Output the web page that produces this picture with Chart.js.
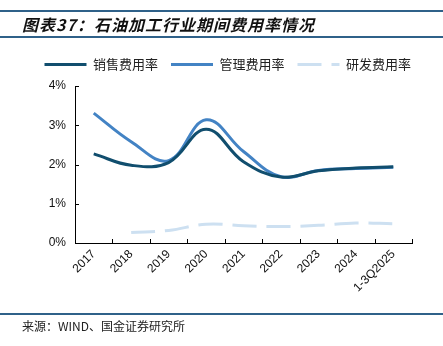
<!DOCTYPE html>
<html>
<head>
<meta charset="utf-8">
<script src="https://cdn.jsdelivr.net/npm/chart.js@4"></script>
<style>
  body { margin: 0; width: 443px; height: 346px; background: #fff; position: relative; overflow: hidden; }
  .title {
    position: absolute; left: 0; top: 10px; width: 443px; height: 24px;
    border-top: 2px solid #2f6189; border-bottom: 2px solid #2f6189;
    font-family: "Noto Sans CJK SC", sans-serif; font-style: italic; font-weight: bold;
    font-size: 16px; line-height: 24px; letter-spacing: 1px; color: #111;
    box-sizing: content-box;
  }
  .title span { position: absolute; left: 22px; top: 0; }
  .foot {
    position: absolute; left: 0; top: 313px; width: 443px; height: 0;
    border-top: 2px solid #2f6189;
  }
  .src {
    position: absolute; left: 22px; top: 317px;
    font-family: "Noto Sans CJK SC", sans-serif; font-size: 12px; color: #222;
  }
  #wrap { position: absolute; left: 0; top: 0; width: 443px; height: 346px; }
</style>
</head>
<body>
<div id="wrap"><canvas id="myChart"></canvas></div>
<div class="title"><span>图表37：石油加工行业期间费用率情况</span></div>
<div class="foot"></div>
<div class="src">来源：WIND、国金证券研究所</div>
<script>
const years = ["2017", "2018", "2019", "2020", "2021", "2022", "2023", "2024", "1-3Q2025"];
const salesRate = [2.27, 1.98, 2.05, 2.9, 2.07, 1.68, 1.84, 1.91, 1.94];
const mgmtRate = [3.31, 2.58, 2.1, 3.14, 2.33, 1.69, 1.85, 1.9, 1.93];
const rdRate = [null, 0.27, 0.32, 0.48, 0.44, 0.42, 0.45, 0.51, 0.49];
const yTicks = [0, 1, 2, 3, 4];

// inward tick marks on both axes, and nudge legend into place
const innerTicks = {
  id: "innerTicks",
  afterLayout(chart) {
    const lg = chart.legend;
    lg.top -= 5;
    lg.bottom -= 5;
    lg.left += 12;
    lg.right += 12;
  },
  afterDraw(chart) {
    const ctx = chart.ctx;
    const x = chart.scales.x;
    const y = chart.scales.y;
    const area = chart.chartArea;
    ctx.save();
    ctx.strokeStyle = "#000";
    ctx.lineWidth = 1;
    ctx.beginPath();
    for (let i = 0; i <= years.length; i++) {
      const px = Math.round(x.getPixelForValue(i - 0.5)) + 0.5;
      ctx.moveTo(px, area.bottom);
      ctx.lineTo(px, area.bottom - 4);
    }
    yTicks.forEach((v) => {
      const py = Math.round(y.getPixelForValue(v)) + 0.5;
      ctx.moveTo(area.left, py);
      ctx.lineTo(area.left + 4, py);
    });
    ctx.stroke();
    ctx.restore();
  },
};

const ctx = document.getElementById("myChart").getContext("2d");
new Chart(ctx, {
  type: "line",
  data: {
    labels: years,
    datasets: [
      {
        label: "销售费用率",
        data: salesRate,
        borderColor: "#114e6e",
        backgroundColor: "#114e6e",
        borderWidth: 3,
        pointRadius: 0,
        tension: 0.4,
      },
      {
        label: "管理费用率",
        data: mgmtRate,
        borderColor: "#4383c4",
        backgroundColor: "#4383c4",
        borderWidth: 3,
        pointRadius: 0,
        tension: 0.4,
      },
      {
        label: "研发费用率",
        data: rdRate,
        borderColor: "#cde0f1",
        backgroundColor: "#cde0f1",
        borderWidth: 3,
        borderDash: [24, 10],
        pointRadius: 0,
        tension: 0.4,
      },
    ],
  },
  options: {
    responsive: true,
    maintainAspectRatio: false,
    animation: false,
    layout: { padding: { top: 50, right: 31, left: 0, bottom: 43 } },
    scales: {
      x: {
        offset: true,
        grid: { display: false, drawTicks: false },
        border: { color: "#000", width: 1 },
        ticks: {
          maxRotation: 45,
          minRotation: 45,
          padding: 4,
          color: "#111",
          font: { family: "Liberation Sans", size: 12 },
        },
        afterFit(scale) {
          scale.height = 60;
        },
      },
      y: {
        min: 0,
        max: 4,
        grid: { display: false, drawTicks: false },
        border: { color: "#000", width: 1 },
        ticks: {
          stepSize: 1,
          padding: 9,
          color: "#111",
          font: { family: "Liberation Sans", size: 12 },
          callback: (v) => v + "%",
        },
        afterFit(scale) {
          scale.width = 75;
        },
      },
    },
    plugins: {
      legend: {
        display: true,
        align: "end",
        labels: {
          usePointStyle: true,
          pointStyle: "line",
          pointStyleWidth: 42,
          padding: 13,
          color: "#222",
          font: { family: "Noto Sans CJK SC", size: 13 },
          generateLabels(chart) {
            const items = Chart.defaults.plugins.legend.labels.generateLabels(chart);
            items.forEach((item) => {
              item.lineDash = chart.data.datasets[item.datasetIndex].borderDash || [];
            });
            return items;
          },
        },
      },
      tooltip: { enabled: false },
    },
  },
  plugins: [innerTicks],
});
</script>
</body>
</html>
